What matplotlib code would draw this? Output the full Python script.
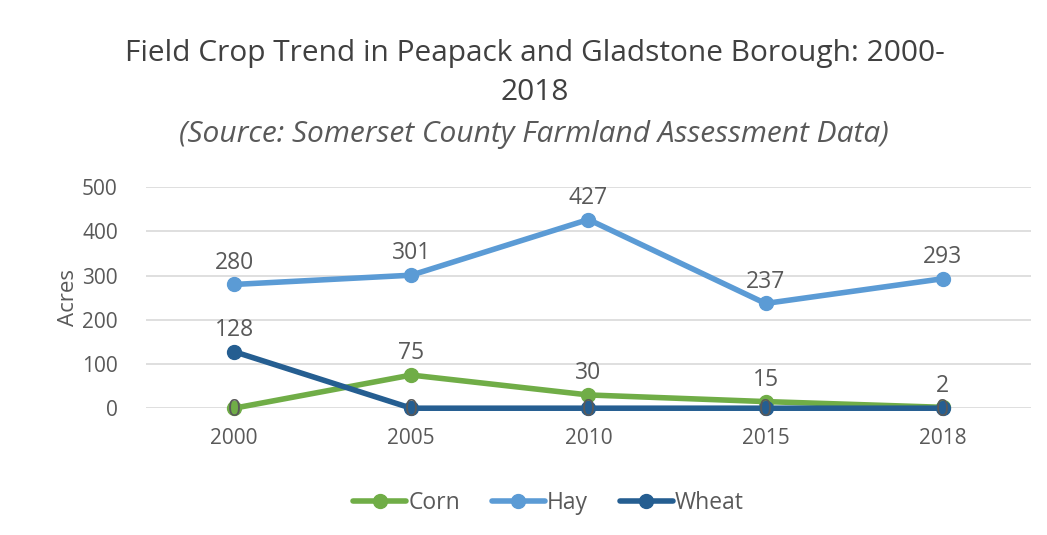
import matplotlib.pyplot as plt

plt.rcParams['font.family'] = ['Open Sans', 'DejaVu Sans']

years = ['2000', '2005', '2010', '2015', '2018']
corn = [0, 75, 30, 15, 2]
hay = [280, 301, 427, 237, 293]
wheat = [128, 0, 0, 0, 0]

text_color = '#595959'
series = [
    ('Corn', corn, '#70ad47'),
    ('Hay', hay, '#5b9bd5'),
    ('Wheat', wheat, '#255e91'),
]

fig = plt.figure(figsize=(10.47, 5.35), dpi=100)
ax = fig.add_axes([0.139, 0.237, 0.846, 0.413])

x = list(range(len(years)))
for name, vals, color in series:
    ax.plot(x, vals, color=color, linewidth=4, marker='o', markersize=10,
            label=name, solid_capstyle='round', clip_on=False)

for name, vals, color in series:
    for xi, v in zip(x, vals):
        if v == 0:
            ax.annotate(str(v), (xi, v), xytext=(0, -1),
                        textcoords='offset points', ha='center', va='center',
                        fontsize=16.5, color=text_color)
        else:
            ax.annotate(str(v), (xi, v), xytext=(0, 7),
                        textcoords='offset points', ha='center', va='bottom',
                        fontsize=16.5, color=text_color)

ax.set_xlim(-0.5, len(years) - 0.5)
ax.set_ylim(0, 500)
ax.set_yticks([0, 100, 200, 300, 400, 500])
ax.set_xticks(x)
ax.set_xticklabels(years)
ax.grid(axis='y', color='#d9d9d9', linewidth=1.2)
ax.set_axisbelow(True)
for s in ax.spines.values():
    s.set_visible(False)
ax.tick_params(length=0, labelsize=15, colors=text_color, pad=14)
ax.tick_params(axis='y', pad=20)
ax.set_ylabel('Acres', fontsize=16, color=text_color, labelpad=2)

fig.text(0.511, 0.863, 'Field Crop Trend in Peapack and Gladstone Borough: 2000-\n2018',
         ha='center', va='center', fontsize=21.5, color='#404040', linespacing=1.45)
fig.text(0.51, 0.748, '(Source: Somerset County Farmland Assessment Data)',
         ha='center', va='center', fontsize=21.5, color=text_color, style='italic')

ax.legend(loc='center', bbox_to_anchor=(0.455, -0.43), ncol=3, frameon=False,
          fontsize=16.5, labelcolor=text_color, handlelength=2.3,
          columnspacing=1.4, handletextpad=0.1)

fig.savefig('out.png', dpi=100)
